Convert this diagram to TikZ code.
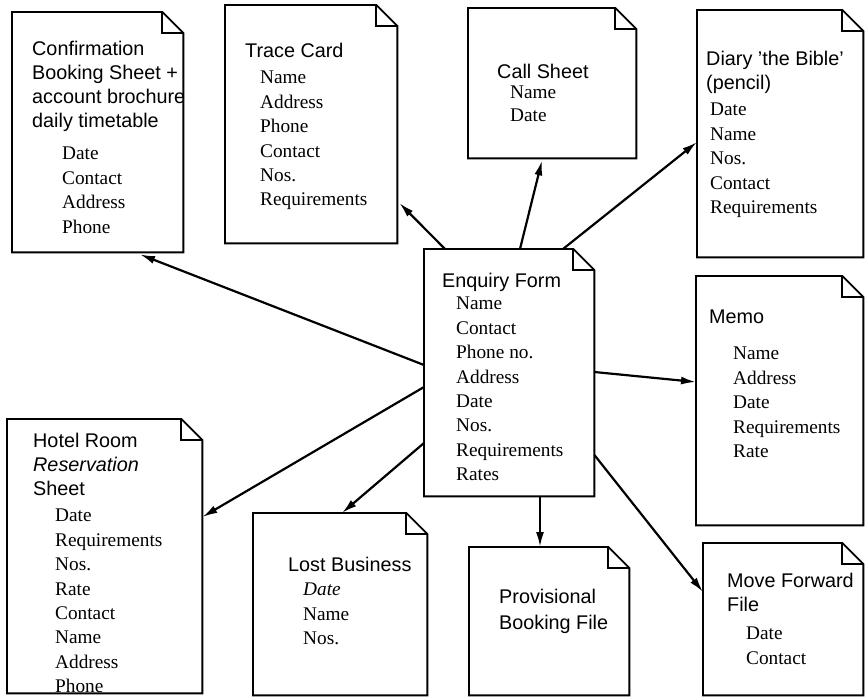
\documentclass[tikz,border=0pt]{standalone}
\usepackage{fontspec}
\setmainfont{Liberation Serif}
\setsansfont{Liberation Sans}
\usetikzlibrary{arrows.meta, calc, positioning}

% first line of a text node always 16pt high
\newcommand{\toprule}{\rule{0pt}{16pt}}

\tikzset{
  docbox/.style={rectangle, inner sep=0pt, anchor=north west},
  docline/.style={line width=1.9pt, line join=miter},
  doctitle/.style={anchor=north west, align=left, inner sep=0pt, yshift=14pt,
    execute at begin node=\toprule, font=\sffamily\fontsize{19.8}{24}\selectfont},
  docfield/.style={anchor=north west, align=left, inner sep=0pt, yshift=11pt,
    execute at begin node=\toprule, font=\fontsize{19.3}{24.4}\selectfont},
  flow/.style={-{Latex[length=15pt,width=8pt]}, line width=2.2pt},
}

\begin{document}
\begin{tikzpicture}[x=1pt, y=-1pt]
    \useasboundingbox (0,0) rectangle (865,697);

    % documents
    \node[docbox, minimum width=171pt, minimum height=240pt] (conf) at (12,12) {};
    \node[docbox, minimum width=172pt, minimum height=238pt] (trace) at (225,5) {};
    \node[docbox, minimum width=168pt, minimum height=150pt] (call) at (468,8) {};
    \node[docbox, minimum width=166pt, minimum height=247pt] (diary) at (697,10) {};
    \node[docbox, minimum width=170pt, minimum height=247pt] (enq) at (424,249) {};
    \node[docbox, minimum width=167pt, minimum height=249pt] (memo) at (696,276) {};
    \node[docbox, minimum width=195pt, minimum height=274pt] (hotel) at (7,419) {};
    \node[docbox, minimum width=174pt, minimum height=182pt] (lost) at (253,513) {};
    \node[docbox, minimum width=160pt, minimum height=148pt] (prov) at (469,547) {};
    \node[docbox, minimum width=160pt, minimum height=152pt] (move) at (703,543) {};

    % outlines with folded corner
    \foreach \d in {conf,trace,call,diary,enq,memo,hotel,lost,prov,move} {
        \draw[docline] (\d.south west) |- ($(\d.north east)+(-21,0)$) -- ($(\d.north east)+(0,21)$) -- (\d.south east) -- cycle;
        \draw[docline] ($(\d.north east)+(-21,0)$) |- ($(\d.north east)+(0,21)$);
    }

    % texts (coordinates give the first baseline)
    \node[doctitle] (conf-t) at (32,55) {Confirmation\\Booking Sheet +\\account brochure\\daily timetable};
    \node[docfield] (conf-f) at (62,158) {Date\\Contact\\Address\\Phone};

    \node[doctitle] (trace-t) at (245,55) {Trace Card};
    \node[docfield] (trace-f) at (260,82) {Name\\Address\\Phone\\Contact\\Nos.\\Requirements};

    \node[doctitle] (call-t) at (497,76) {Call Sheet};
    \node[docfield, font=\fontsize{19.3}{23}\selectfont] (call-f) at (510,97) {Name\\Date};

    \node[doctitle] (diary-t) at (706,65) {Diary 'the Bible'\\(pencil)};
    \node[docfield] (diary-f) at (710,114) {Date\\Name\\Nos.\\Contact\\Requirements};

    \node[doctitle] (enq-t) at (442,285) {Enquiry Form};
    \node[docfield] (enq-f) at (456,308) {Name\\Contact\\Phone no.\\Address\\Date\\Nos.\\Requirements\\Rates};

    \node[doctitle] (memo-t) at (709,321) {Memo};
    \node[docfield] (memo-f) at (733,358) {Name\\Address\\Date\\Requirements\\Rate};

    \node[doctitle] (hotel-t) at (33,447) {Hotel Room\\\textit{Reservation}\\Sheet};
    \node[docfield] (hotel-f) at (55,520) {Date\\Requirements\\Nos.\\Rate\\Contact\\Name\\Address\\Phone};

    \node[doctitle] (lost-t) at (288,569) {Lost Business};
    \node[docfield] (lost-f) at (303,594) {\textit{Date}\\Name\\Nos.};

    \node[doctitle, font=\sffamily\fontsize{19.8}{26}\selectfont] (prov-t) at (499,603) {Provisional\\Booking File};

    \node[doctitle] (move-t) at (727,587) {Move Forward\\File};
    \node[docfield] (move-f) at (746,638) {Date\\Contact};

    % connectors from the enquiry form
    \draw[flow] ($(enq.north west)+(0,116)$) -- ($(conf.south west)+(128,2)$);
    \draw[flow] ($(enq.north west)+(21,0)$) -- ($(trace.north east)+(2,198)$);
    \draw[flow] ($(enq.north west)+(96,0)$) -- ($(call.south west)+(74,2)$);
    \draw[flow] ($(enq.north west)+(139,0)$) -- ($(diary.north west)+(0,132)$);
    \draw[flow] ($(enq.north east)+(0,123)$) -- ($(memo.north west)+(0,106)$);
    \draw[flow] ($(enq.north east)+(0,206)$) -- ($(move.north west)+(0,49)$);
    \draw[flow] ($(enq.south west)+(116,0)$) -- ($(prov.north west)+(71,0)$);
    \draw[flow] ($(enq.north west)+(0,194)$) -- ($(lost.north west)+(89,0)$);
    \draw[flow] ($(enq.north west)+(0,138)$) -- ($(hotel.north east)+(0,98)$);
\end{tikzpicture}
\end{document}
